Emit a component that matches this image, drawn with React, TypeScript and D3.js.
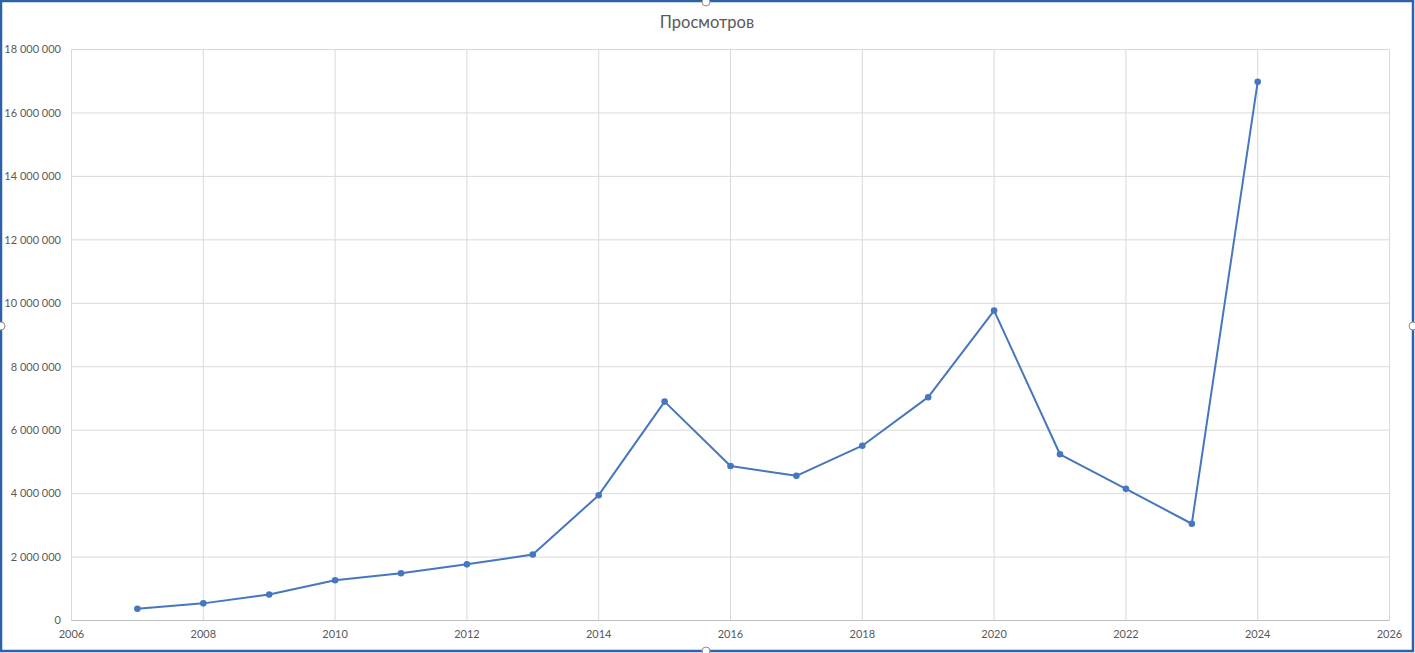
import * as d3 from 'd3'
import React from 'react'

const years = [2007, 2008, 2009, 2010, 2011, 2012, 2013, 2014, 2015, 2016, 2017, 2018, 2019, 2020, 2021, 2022, 2023, 2024]
const views = [
  370000, 540000, 820000, 1270000, 1490000, 1770000, 2080000, 3950000, 6900000,
  4870000, 4560000, 5510000, 7040000, 9770000, 5240000, 4150000, 3050000, 16980000,
]
const xTicks = [2006, 2008, 2010, 2012, 2014, 2016, 2018, 2020, 2022, 2024, 2026]
const yTicks = [0, 2000000, 4000000, 6000000, 8000000, 10000000, 12000000, 14000000, 16000000, 18000000]
const title = 'Просмотров'

const W = 1415, H = 653
const font = 'Lato, "Open Sans", sans-serif'
const textColor = '#595959'
const gridColor = '#d9d9d9'
const lineColor = '#4677be'

const fmt = (v: number) => d3.format(',')(v).replace(/,/g, ' ')

export default function App() {
  const
    x = d3.scaleLinear().domain([2006, 2026]).range([71.5, 1389.5]),
    y = d3.scaleLinear().domain([0, 18000000]).range([620.5, 49.5]),
    pts = years.map((yr, i) => [x(yr), y(views[i])] as [number, number]),
    line = d3.line()(pts) as string

  React.useEffect(() => { document.body.style.margin = '0' }, [])

  const handles: [number, number][] = [[706, 2], [706, 651], [1, 326], [1413, 326]]

  return (
    <svg width={W} height={H} style={{ display: 'block', fontFamily: font }}>
      <rect x={0} y={0} width={W} height={H} fill='#fff' />
      {/* gridlines */}
      {yTicks.map(t => (
        <line key={'gy' + t} x1={x(2006)} x2={x(2026)} y1={y(t)} y2={y(t)} stroke={gridColor} strokeWidth={1} />
      ))}
      {xTicks.map(t => (
        <line key={'gx' + t} x1={x(t)} x2={x(t)} y1={y(18000000)} y2={y(0)} stroke={gridColor} strokeWidth={1} />
      ))}
      <line x1={x(2006)} x2={x(2026)} y1={y(0)} y2={y(0)} stroke='#bfbfbf' strokeWidth={1} />
      {/* axis labels */}
      {yTicks.map(t => (
        <text key={'ly' + t} x={61} y={y(t)} dy='0.35em' textAnchor='end' fontSize={11} fill={textColor}>{fmt(t)}</text>
      ))}
      {xTicks.map(t => (
        <text key={'lx' + t} x={x(t)} y={638} textAnchor='middle' fontSize={11} fill={textColor}>{t}</text>
      ))}
      <text x={707} y={28} textAnchor='middle' fontSize={16.5} fill={textColor}>{title}</text>
      {/* series */}
      <path d={line} fill='none' stroke={lineColor} strokeWidth={2} strokeLinejoin='round' />
      {pts.map(([px, py], i) => (
        <circle key={i} cx={px} cy={py} r={3.3} fill={lineColor} />
      ))}
      {/* chart frame */}
      <rect x={1} y={1} width={W - 3} height={H - 3} fill='none' stroke='#2e62a8' strokeWidth={2.5} />
      {handles.map(([hx, hy], i) => (
        <circle key={'h' + i} cx={hx} cy={hy} r={4} fill='#fff' stroke='#8c8c8c' strokeWidth={1} />
      ))}
    </svg>
  )
}
